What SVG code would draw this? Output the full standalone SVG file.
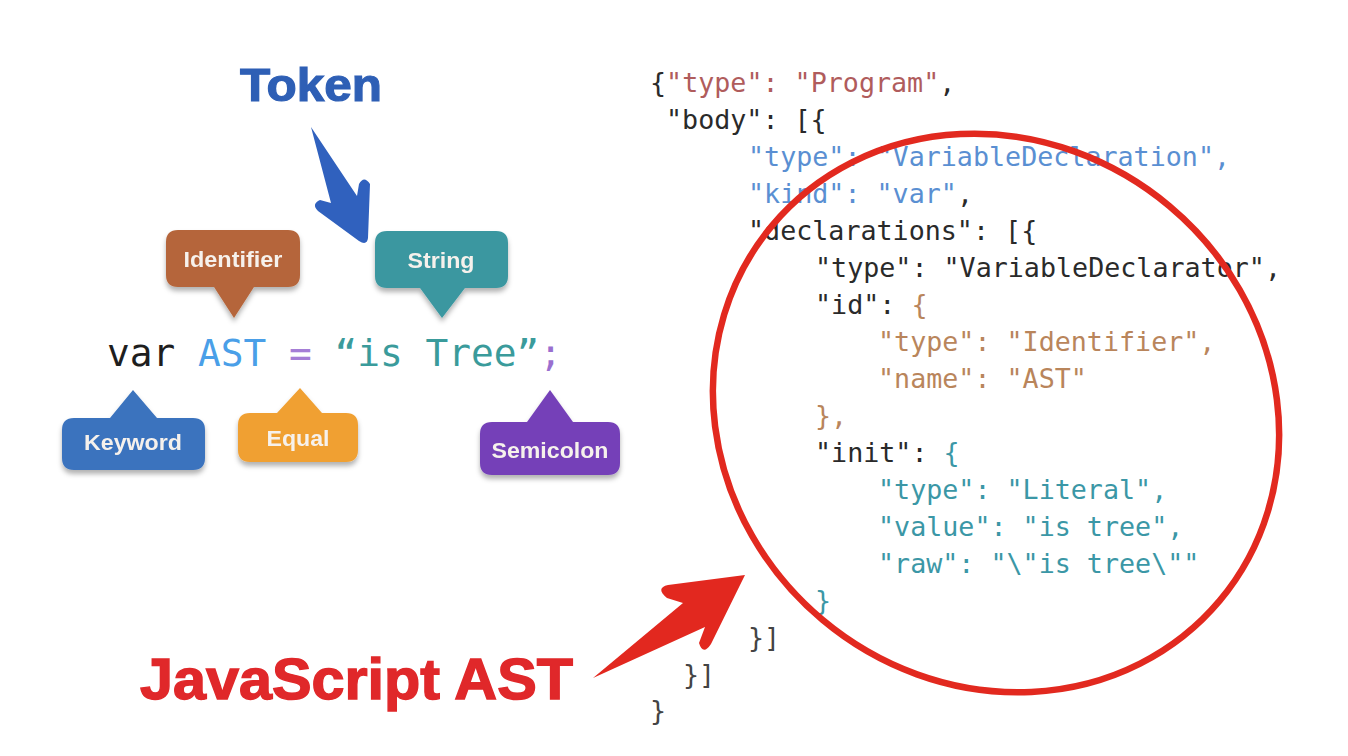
<svg xmlns="http://www.w3.org/2000/svg" width="1348" height="756" viewBox="0 0 1348 756">
<defs>
<filter id="sh" x="-20%" y="-20%" width="140%" height="160%">
<feDropShadow dx="0" dy="4" stdDeviation="2.5" flood-color="#000" flood-opacity="0.3"/>
</filter>
<style>
.code{font-family:"DejaVu Sans Mono","Liberation Mono",monospace;font-size:26.7px;}
.blab{font-family:"Liberation Sans",Arial,sans-serif;font-weight:bold;font-size:22px;fill:#f6f1ec;text-anchor:middle;}
.dk{fill:#2a2a2a}
.rose{fill:#b05c5c}
.bl{fill:#5a8fd2}
.br{fill:#b9855b}
.tl{fill:#3b97a6}
.gr{fill:#444}
</style>
</defs>
<rect width="1348" height="756" fill="#ffffff"/>

<text x="311" y="101" font-family="Liberation Sans, Arial, sans-serif" font-weight="bold" font-size="47" fill="#2e5fb5" stroke="#2e5fb5" stroke-width="1.2" text-anchor="middle" textLength="142" lengthAdjust="spacingAndGlyphs">Token</text>

<g id="identifier" filter="url(#sh)">
<path d="M178,230 H288 Q300,230 300,242 V275 Q300,287 288,287 H254 L234,318 L214,287 H178 Q166,287 166,275 V242 Q166,230 178,230 Z" fill="#b5653a"/>
<text class="blab" x="233" y="267" textLength="99" lengthAdjust="spacingAndGlyphs">Identifier</text>
</g>
<g id="string" filter="url(#sh)">
<path d="M387,231 H496 Q508,231 508,243 V276 Q508,288 496,288 H465 L442,318 L420,288 H387 Q375,288 375,276 V243 Q375,231 387,231 Z" fill="#3a97a0"/>
<text class="blab" x="441" y="268" textLength="67" lengthAdjust="spacingAndGlyphs">String</text>
</g>
<g id="keyword" filter="url(#sh)">
<path d="M74,418 H110 L133,390 L157,418 H193 Q205,418 205,430 V458 Q205,470 193,470 H74 Q62,470 62,458 V430 Q62,418 74,418 Z" fill="#3b73be"/>
<text class="blab" x="133" y="450" textLength="98" lengthAdjust="spacingAndGlyphs">Keyword</text>
</g>
<g id="equal" filter="url(#sh)">
<path d="M250,413 H277 L300,388 L322,413 H346 Q358,413 358,425 V450 Q358,462 346,462 H250 Q238,462 238,450 V425 Q238,413 250,413 Z" fill="#f0a033"/>
<text class="blab" x="298" y="446" textLength="63" lengthAdjust="spacingAndGlyphs">Equal</text>
</g>
<g id="semicolon" filter="url(#sh)">
<path d="M492,422 H527 L550,390 L573,422 H608 Q620,422 620,434 V463 Q620,475 608,475 H492 Q480,475 480,463 V434 Q480,422 492,422 Z" fill="#7441b8"/>
<text class="blab" x="550" y="458" textLength="117" lengthAdjust="spacingAndGlyphs">Semicolon</text>
</g>

<text x="107" y="366" font-family="DejaVu Sans Mono, Liberation Mono, monospace" font-size="37.8" textLength="455" lengthAdjust="spacingAndGlyphs"><tspan fill="#1e1e1e">var </tspan><tspan fill="#4a9fe8">AST </tspan><tspan fill="#a57ed6">= </tspan><tspan fill="#3a9b9b">“is Tree”</tspan><tspan fill="#9a6fcf">;</tspan></text>

<g id="code" class="code">
<text x="650" y="92"><tspan class="dk">{</tspan><tspan class="rose">"type": "Program"</tspan><tspan class="dk">,</tspan></text>
<text x="666" y="129" class="dk">"body": [{</text>
<text x="748" y="166" class="bl">"type": "VariableDeclaration",</text>
<text x="748" y="203"><tspan class="bl">"kind": "var"</tspan><tspan class="dk">,</tspan></text>
<text x="748" y="240" class="dk">"declarations": [{</text>
<text x="815" y="277" class="dk">"type": "VariableDeclarator",</text>
<text x="815" y="314"><tspan class="dk">"id": </tspan><tspan class="br">{</tspan></text>
<text x="878" y="351" class="br">"type": "Identifier",</text>
<text x="878" y="388" class="br">"name": "AST"</text>
<text x="815" y="425" class="br">},</text>
<text x="815" y="462"><tspan class="dk">"init": </tspan><tspan class="tl">{</tspan></text>
<text x="878" y="499" class="tl">"type": "Literal",</text>
<text x="878" y="536" class="tl">"value": "is tree",</text>
<text x="878" y="573" class="tl">"raw": "\"is tree\""</text>
<text x="815" y="610" class="tl">}</text>
<text x="748" y="647" class="gr">}]</text>
<text x="683" y="684" class="gr">}]</text>
<text x="650" y="720" class="gr">}</text>
</g>

<text x="140" y="699" font-family="Liberation Sans, Arial, sans-serif" font-weight="bold" font-size="57" fill="#e0282a" stroke="#e0282a" stroke-width="1.4" textLength="433" lengthAdjust="spacingAndGlyphs">JavaScript AST</text>

<g id="connectors">
<path d="M311,127 L357,196 L359,184 Q364,175 370,184 L368,238 Q367,246 359,241 L318,211 Q311,204 320,200 L331,203 Z" fill="#3061be"/>
<path d="M593,678 L683,603 L667,598 Q655,588 668,585 L745,575 L711,644 Q703,656 699,643 L705,627 Z" fill="#e2281f"/>
<ellipse cx="996" cy="413" rx="292" ry="270" transform="rotate(40 996 413)" fill="none" stroke="#e2291f" stroke-width="6.5"/>
</g>
</svg>
